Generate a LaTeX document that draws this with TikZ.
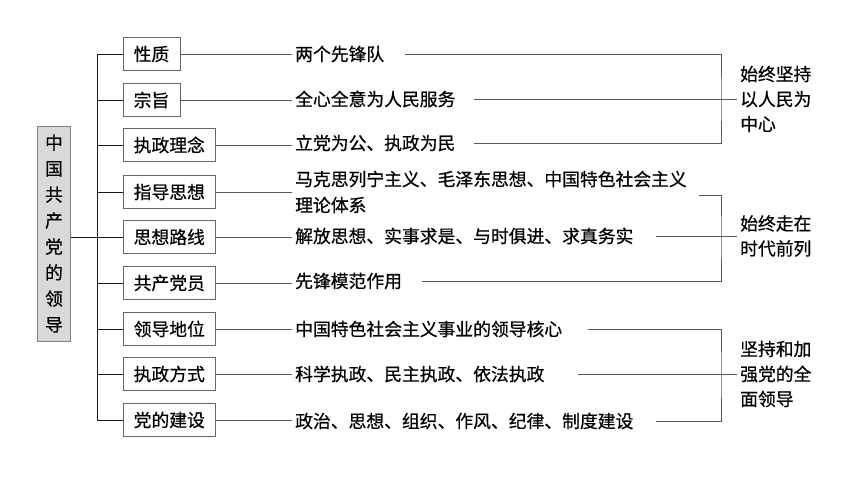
\documentclass[tikz,border=0pt]{standalone}
\usepackage{fontspec}
\newfontfamily\cjk[FakeBold=0.6]{Noto Sans CJK SC}
\usetikzlibrary{positioning}

\begin{document}
\begin{tikzpicture}[x=1pt,y=-1pt,
        lead/.style={draw=black!50, fill=black!15, minimum width=33pt, minimum height=215pt, inner sep=0pt, align=center,
        font=\cjk\fontsize{17.8}{26}\selectfont},
        item/.style={draw=black!60, anchor=west, minimum height=33pt, inner xsep=10.5pt, inner ysep=0pt,
        font=\cjk\fontsize{17.8}{26}\selectfont},
        note/.style={anchor=west, inner xsep=3pt, inner ysep=0pt, align=left, font=\cjk\fontsize{17.8}{26}\selectfont},
        sum/.style={anchor=west, inner xsep=3pt, inner ysep=0pt, align=left, font=\cjk\fontsize{17.8}{25}\selectfont},
        link/.style={draw=black!65}]
        \useasboundingbox (0,0) rectangle (860,484);
        \node[lead] (r) at (54,233.5) {中\\国\\共\\产\\党\\的\\领\\导};
        \coordinate (sp) at (97,237);
        \foreach \i/\name/\y in {1/性质/54,2/宗旨/100,3/执政理念/145,4/指导思想/192,5/思想路线/237,
                6/共产党员/283,7/领导地位/329,8/执政方式/374,9/党的建设/420}
            \node[item] (b\i) at (123,\y) {\name};
        \foreach \i/\txt/\y in {1/两个先锋队/54,2/全心全意为人民服务/99,3/立党为公、执政为民/143,
                4/{马克思列宁主义、毛泽东思想、中国特色社会主义\\理论体系}/192,5/解放思想、实事求是、与时俱进、求真务实/236,
                6/先锋模范作用/281,7/中国特色社会主义事业的领导核心/329,8/科学执政、民主执政、依法执政/374,
                9/政治、思想、组织、作风、纪律、制度建设/421}
            \node[note] (t\i) at (292,\y) {\txt};
        \node[sum] (g1) at (737,99) {始终坚持\\以人民为\\中心};
        \node[sum] (g2) at (737,236) {始终走在\\时代前列};
        \node[sum] (g3) at (737,374) {坚持和加\\强党的全\\面领导};
        % tree
        \draw[black!90] (r.east |- sp) -- (sp);
        \foreach \i in {1,...,9} {
            \draw[black!90] (sp) |- (b\i.west);
            \draw[link] (b\i.east) -- (b\i.east -| t\i.west);
        }
        % brackets
        \coordinate (k1) at (721,99);
        \coordinate (k2) at (721,236);
        \coordinate (k3) at (721,374);
        \draw[link] ([xshift=18pt]t1.east) -| (k1) |- ([xshift=15pt]t3.east);
        \draw[link] ([xshift=15pt]t2.east) -- (g1.west);
        \draw[link] ([xshift=9pt,yshift=-3pt]t4.east) -| (k2) |- ([xshift=17pt]t6.east);
        \draw[link] ([xshift=19pt]t5.east) -- (g2.west);
        \draw[link] ([xshift=23pt]t7.east) -| (k3) |- ([xshift=19pt]t9.east);
        \draw[link] ([xshift=30pt]t8.east) -- (g3.west);
    \end{tikzpicture}
\end{document}
